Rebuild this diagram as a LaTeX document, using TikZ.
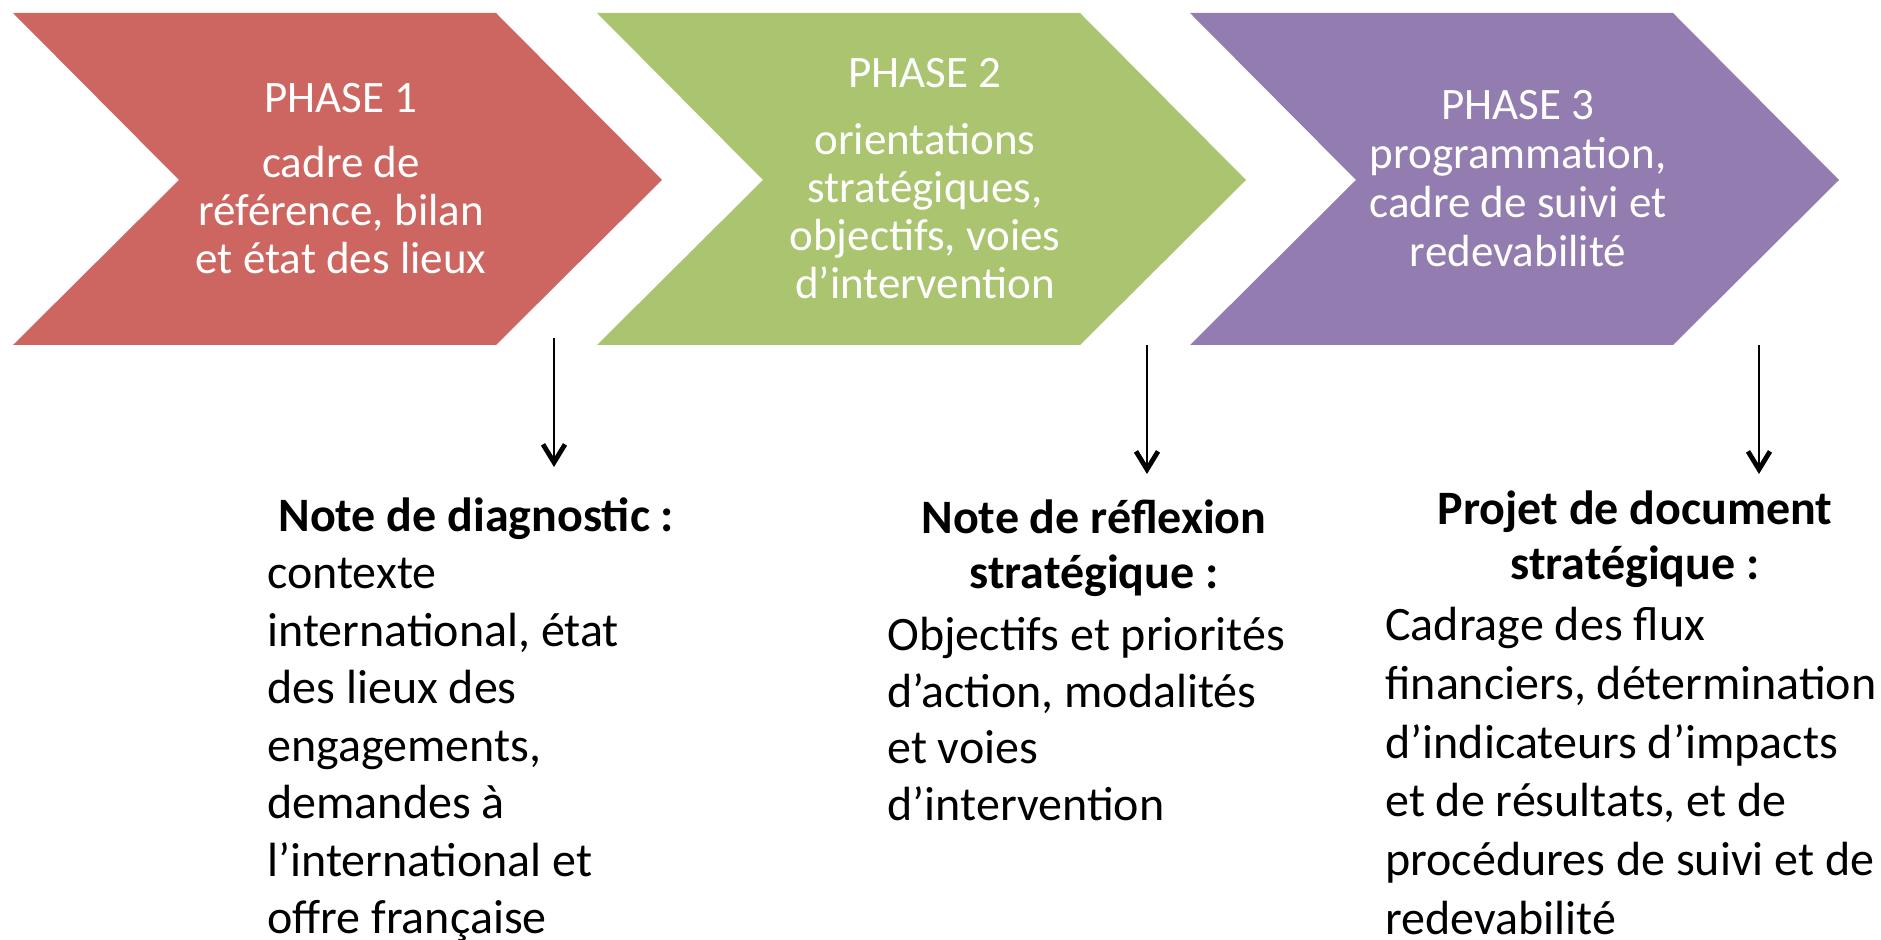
\documentclass[tikz,border=0pt]{standalone}
\usepackage{fontspec}
\setmainfont{Carlito}
\usepackage{xcolor}
\usetikzlibrary{arrows.meta}
\definecolor{phaseA}{RGB}{205,102,96}
\definecolor{phaseB}{RGB}{171,196,111}
\definecolor{phaseC}{RGB}{147,124,176}

\begin{document}
\begin{tikzpicture}[x=0.5pt,y=-0.5pt,
        phase/.style={text=white,align=center,inner sep=0pt,anchor=base,font=\fontsize{22.5}{24}\selectfont},
        notehead/.style={align=center,inner sep=0pt,anchor=base,font=\fontsize{24}{27.5}\selectfont\bfseries},
        notebody/.style={align=left,inner sep=0pt,anchor=base west,font=\fontsize{24}{28.8}\selectfont},
        deliv/.style={-{Straight Barb[length=9pt,width=11pt,line width=2.4pt]},line width=0.9pt}]
            \useasboundingbox (0,0) rectangle (1881,940);
            % chevrons (base = last line)
            \foreach \x/\c in {13/phaseA,597/phaseB,1190/phaseC}
                \fill[\c] (\x,13) -- ++(483,0) -- ++(166,167) -- ++(-166,165) -- ++(-483,0) -- ++(166,-165) -- cycle;
            \node[phase] (ph1) at (341,274) {PHASE 1\\[8.5pt]cadre de\\référence, bilan\\et état des lieux};
            \node[phase] (ph2) at (925,299) {PHASE 2\\[9.5pt]orientations\\stratégiques,\\objectifs, voies\\d’intervention};
            \node[phase,font=\fontsize{22.5}{24.5}\selectfont] (ph3) at (1518,267) {PHASE 3\\programmation,\\cadre de suivi et\\redevabilité};
            % livrables
            \node[notehead,anchor=base west] (n1t) at (278,532) {Note de diagnostic :};
            \node[notebody] (n1) at (267,934) {contexte\\international, état\\des lieux des\\engagements,\\demandes à\\l’international et\\offre française};
            \node[notehead] (n2t) at (1094,589) {Note de réflexion\\stratégique :};
            \node[notebody,font=\fontsize{24}{28.2}\selectfont] (n2) at (887,820) {Objectifs et priorités\\d’action, modalités\\et voies\\d’intervention};
            \node[notehead] (n3t) at (1635,580) {Projet de document\\stratégique :};
            \node[notebody,font=\fontsize{24}{29.5}\selectfont] (n3) at (1385,935) {Cadrage des flux\\financiers, détermination\\d’indicateurs d’impacts\\et de résultats, et de\\procédures de suivi et de\\redevabilité};
            % fleches
            \coordinate (o1) at (554,338); \coordinate (i1) at (554,467);
            \coordinate (o2) at (1147,345); \coordinate (i2) at (1147,474);
            \coordinate (o3) at (1759,345); \coordinate (i3) at (1759,474);
            \foreach \i in {1,2,3}
                \draw[deliv] (o\i) -- (i\i);
        \end{tikzpicture}
\end{document}
